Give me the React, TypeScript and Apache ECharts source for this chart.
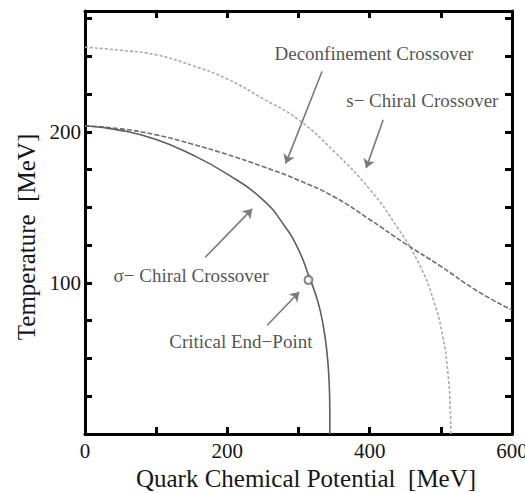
import React, { useEffect, useRef } from "react";
import * as echarts from "echarts";

// Phase boundaries in the (mu, T) plane, values in MeV
const sigmaChiral: [number, number][] = [
  [0, 204], [50, 201], [100, 195], [150, 185], [200, 172], [250, 155],
  [280, 138], [300, 122], [315, 104], [327, 88], [335, 71], [340, 54],
  [343, 35], [344, 15], [344, 0],
];
const deconfinement: [number, number][] = [
  [0, 204], [50, 202], [100, 198], [150, 192], [200, 185], [250, 177],
  [300, 168], [350, 157], [400, 142], [450, 126], [500, 111], [550, 95],
  [600, 82],
];
const strangeChiral: [number, number][] = [
  [0, 256], [50, 254], [100, 251], [150, 244], [200, 235], [250, 222],
  [300, 208], [350, 187], [400, 162], [440, 136], [470, 112], [490, 88],
  [503, 64], [510, 40], [513, 20], [514, 0],
];
const criticalEndPoint: [number, number] = [314, 102];

// Annotation texts with their anchor positions and arrows (data units)
const annotationTexts = [
  "Deconfinement Crossover",
  "s\u2212 Chiral Crossover",
  "\u03c3\u2212 Chiral Crossover",
  "Critical End\u2212Point",
];
const annotationAnchors: [number, number][] = [
  [406, 252], [474, 221], [149, 105], [219, 61],
];
const arrowStarts: [number, number][] = [
  [333, 240], [419, 208], [169, 117], [256, 72],
];
const arrowEnds: [number, number][] = [
  [282, 179], [395, 176], [235, 149], [301, 94],
];

const xTickLabels = [0, 200, 400, 600];
const yTickLabels = [100, 200];

const FONT = "'Liberation Serif', 'DejaVu Serif', serif";
const TEXT_COLOR = "#161616";

export default function App() {
  const ref = useRef<HTMLDivElement>(null);

  useEffect(() => {
    if (!ref.current) return;
    const chart = echarts.init(ref.current, undefined, { renderer: "svg" });

    const edgeAxis = {
      axisLine: { show: true, onZero: false, lineStyle: { color: "#000", width: 3 } },
      axisTick: { show: true, inside: true, length: 7, lineStyle: { color: "#000", width: 3 } },
      splitLine: { show: false },
    };

    chart.setOption({
      animation: false,
      backgroundColor: "#fff",
      grid: {
        left: 85, right: 13, top: 11, bottom: 59,
        containLabel: false, outerBoundsMode: "none",
      },
      xAxis: [
        {
          type: "value", min: 0, max: 600, interval: 100, position: "bottom",
          ...edgeAxis,
          axisLabel: {
            margin: 6, fontSize: 21, fontFamily: FONT, color: TEXT_COLOR,
            formatter: (v: number) => (xTickLabels.includes(v) ? String(v) : ""),
          },
        },
        {
          type: "value", min: 0, max: 600, interval: 100, position: "top",
          ...edgeAxis, axisLabel: { show: false },
        },
      ],
      yAxis: [
        {
          type: "value", min: 0, max: 280, interval: 25, position: "left",
          ...edgeAxis,
          axisLabel: {
            margin: 4, fontSize: 21, fontFamily: FONT, color: TEXT_COLOR,
            formatter: (v: number) => (yTickLabels.includes(v) ? String(v) : ""),
          },
        },
        {
          type: "value", min: 0, max: 280, interval: 25, position: "right",
          ...edgeAxis, axisLabel: { show: false },
        },
      ],
      series: [
        {
          type: "line", data: strangeChiral, showSymbol: false, smooth: true,
          lineStyle: { color: "#aaa", width: 1.6, type: [3, 2] },
        },
        {
          type: "line", data: deconfinement, showSymbol: false, smooth: true,
          lineStyle: { color: "#6f6f6f", width: 1.6, type: [5, 2] },
        },
        {
          type: "line", data: sigmaChiral, showSymbol: false, smooth: true,
          lineStyle: { color: "#5e5e5e", width: 1.6 },
        },
        {
          type: "scatter", data: [criticalEndPoint], symbol: "emptyCircle",
          symbolSize: 8, itemStyle: { color: "#666", borderWidth: 1.5 },
          z: 5,
        },
        {
          type: "scatter",
          data: annotationAnchors.map((p, i) => ({ value: p, name: annotationTexts[i] })),
          symbolSize: 1,
          itemStyle: { color: "transparent" },
          label: {
            show: true, position: "inside", formatter: "{b}",
            fontSize: 19, fontFamily: FONT, color: "#262626",
          },
          markLine: {
            silent: true,
            symbol: ["none", "arrow"],
            symbolSize: 9,
            label: { show: false },
            lineStyle: { color: "#7a7a7a", width: 1.6, type: "solid" },
            itemStyle: { color: "#111" },
            data: arrowStarts.map((s, i) => [{ coord: s }, { coord: arrowEnds[i] }]),
          },
        },
      ],
      graphic: [
        {
          type: "text", x: 26, y: 237, rotation: Math.PI / 2,
          style: {
            text: "Temperature  [MeV]", font: `25px ${FONT}`, fill: TEXT_COLOR,
            textAlign: "center", textVerticalAlign: "middle",
          },
        },
        {
          type: "text", x: 306, y: 478,
          style: {
            text: "Quark Chemical Potential  [MeV]", font: `25px ${FONT}`, fill: TEXT_COLOR,
            textAlign: "center", textVerticalAlign: "middle",
          },
        },
      ],
    });

    return () => chart.dispose();
  }, []);

  return (
    <div
      ref={ref}
      style={{ position: "absolute", left: 0, top: 0, width: 525, height: 493 }}
    />
  );
}
